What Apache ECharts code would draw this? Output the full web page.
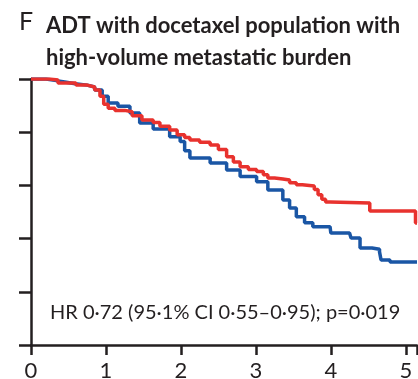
<!DOCTYPE html>
<html>
<head>
<meta charset="utf-8">
<script src="https://cdn.jsdelivr.net/npm/echarts@6/dist/echarts.min.js"></script>
<style>
  html, body { margin: 0; padding: 0; background: #fff; }
  #main { width: 418px; height: 379px; }
</style>
</head>
<body>
<div id="main"></div>
<script>
// survival curves (years, proportion)
var redTimes = [0, 0.25, 0.36, 0.6, 0.75, 0.85, 0.92, 0.97, 1.03, 1.12, 1.25, 1.35, 1.48, 1.63, 1.72, 1.85, 1.95, 2.05, 2.12, 2.25, 2.39, 2.5, 2.61, 2.7, 2.79, 2.9, 3.01, 3.1, 3.16, 3.25, 3.36, 3.45, 3.54, 3.62, 3.78, 3.83, 3.88, 3.93, 3.99, 4.52, 5.13, 5.15];
var redSurv = [1.0, 0.996, 0.985, 0.977, 0.97, 0.959, 0.935, 0.905, 0.89, 0.882, 0.877, 0.862, 0.846, 0.836, 0.822, 0.808, 0.79, 0.78, 0.771, 0.762, 0.752, 0.735, 0.708, 0.688, 0.67, 0.66, 0.652, 0.64, 0.628, 0.624, 0.62, 0.61, 0.602, 0.598, 0.585, 0.565, 0.548, 0.538, 0.534, 0.504, 0.459, 0.459];

var blueTimes = [0, 0.2, 0.36, 0.45, 0.59, 0.75, 0.85, 0.95, 1.03, 1.16, 1.32, 1.45, 1.63, 1.85, 1.99, 2.05, 2.12, 2.39, 2.61, 2.79, 3.01, 3.16, 3.36, 3.45, 3.54, 3.65, 3.76, 3.99, 4.0, 4.25, 4.27, 4.39, 4.55, 4.65, 4.67, 4.79, 5.15];
var blueSurv = [1.0, 0.993, 0.989, 0.982, 0.977, 0.97, 0.959, 0.935, 0.91, 0.898, 0.872, 0.835, 0.812, 0.783, 0.765, 0.73, 0.703, 0.684, 0.658, 0.633, 0.614, 0.583, 0.545, 0.515, 0.482, 0.46, 0.445, 0.44, 0.421, 0.414, 0.402, 0.365, 0.36, 0.35, 0.32, 0.312, 0.312];

var xTicks = [0, 1, 2, 3, 4, 5];
var titleLines = ["ADT with docetaxel population with", "high-volume metastatic burden"];
var hrText = "HR 0\u00b772 (95\u00b71% CI 0\u00b755\u20130\u00b795); p=0\u00b7019";

function pairs(ts, ss) {
  return ts.map(function (t, i) { return [t, ss[i]]; });
}

var chart = echarts.init(document.getElementById("main"));
var ink = "#231f20";
var font = "Lato, 'Open Sans', sans-serif";

var option = {
  animation: false,
  grid: { left: 31, right: 1, top: 79, bottom: 34, containLabel: false, outerBoundsMode: "none" },
  xAxis: {
    type: "value",
    min: 0,
    max: 5.15,
    interval: 1,
    splitLine: { show: false },
    axisLine: { lineStyle: { color: ink, width: 2.5 } },
    axisTick: { length: 10, lineStyle: { color: ink, width: 2.5 } },
    axisLabel: {
      color: ink, fontSize: 22, fontFamily: font, margin: 15,
      showMaxLabel: true,
      formatter: function (v) { return xTicks.indexOf(v) >= 0 ? String(v) : ""; }
    }
  },
  yAxis: {
    type: "value",
    min: 0,
    max: 1,
    interval: 0.2,
    splitLine: { show: false },
    axisLine: { show: true, lineStyle: { color: ink, width: 2.5 } },
    axisTick: { show: true, length: 12, lineStyle: { color: ink, width: 2.5 } },
    axisLabel: { show: false }
  },
  series: [
    {
      name: "blue",
      type: "line",
      step: "end",
      symbol: "none",
      lineStyle: { color: "#1a56a5", width: 3.5 },
      data: pairs(blueTimes, blueSurv),
      z: 2
    },
    {
      name: "red",
      type: "line",
      step: "end",
      symbol: "none",
      lineStyle: { color: "#e8322e", width: 3.5 },
      data: pairs(redTimes, redSurv),
      z: 3
    }
  ],
  graphic: [
    {
      type: "text", left: 19, top: 9,
      style: { text: "F", fontSize: 25, fontWeight: "normal", fontFamily: font, fill: ink }
    },
    {
      type: "text", left: 46, top: 10,
      style: { text: titleLines.join("\n"), fontSize: 22, lineHeight: 32, fontWeight: "bold", fontFamily: font, fill: ink }
    },
    {
      type: "text", left: 50, top: 303,
      style: { text: hrText, fontSize: 20, fontFamily: font, fill: ink }
    }
  ]
};
chart.setOption(option);
</script>
</body>
</html>
